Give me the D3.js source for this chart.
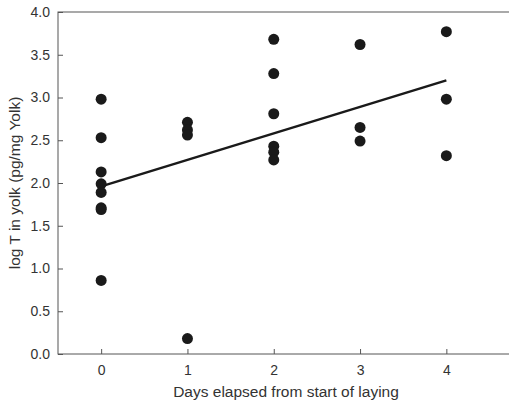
<!DOCTYPE html>
<html>
<head>
<meta charset="utf-8">
<script src="https://cdn.jsdelivr.net/npm/d3@7"></script>
<style>
  body { margin: 0; background: #fff; }
  svg { display: block; font-family: "Liberation Sans", Arial, sans-serif; }
  .axis path, .axis line { stroke: #555; }
  .axis text { fill: #333; font-size: 14px; font-family: "Liberation Sans", Arial, sans-serif; }
</style>
</head>
<body>
<svg></svg>
<script>
var width = 509;
var height = 405;

// day of laying for every egg sampled
var days = [0, 0, 0, 0, 0, 0, 0, 0,
            1, 1, 1, 1,
            2, 2, 2, 2, 2, 2,
            3, 3, 3,
            4, 4, 4];
// log T in yolk for the same eggs
var logT = [2.98, 2.53, 2.13, 1.99, 1.89, 1.71, 1.69, 0.86,
            2.71, 2.62, 2.56, 0.18,
            3.68, 3.28, 2.81, 2.43, 2.36, 2.27,
            3.62, 2.65, 2.49,
            3.77, 2.98, 2.32];

// fitted line end points
var fitDays = [0, 4];
var fitLogT = [1.96, 3.20];

var xTicks = [0, 1, 2, 3, 4];
var yTicks = [0, 0.5, 1, 1.5, 2, 2.5, 3, 3.5, 4];

var padLeft = 58, padTop = 12, padBottom = 354;

var xScale = d3.scaleLinear()
                .domain([-0.5, 5])
                .range([padLeft, padLeft + 5.5 * 86.3]);

var yScale = d3.scaleLinear()
                .domain([0, 4])
                .range([padBottom, padTop]);

var svg = d3.select("svg")
    .attr("width", width)
    .attr("height", height);

// frame (right side runs off the picture)
svg.append("rect")
    .attr("x", padLeft)
    .attr("y", padTop)
    .attr("width", xScale(5) - padLeft)
    .attr("height", padBottom - padTop)
    .attr("fill", "none")
    .attr("stroke", "#555");

var xAxis = d3.axisBottom(xScale)
                .tickValues(xTicks)
                .tickFormat(d3.format("d"))
                .tickSize(-5)
                .tickPadding(11)
                .tickSizeOuter(0);

var yAxis = d3.axisLeft(yScale)
                .tickValues(yTicks)
                .tickFormat(d3.format(".1f"))
                .tickSize(-5)
                .tickPadding(8)
                .tickSizeOuter(0);

svg.append("g")
    .attr("class", "axis")
    .attr("transform", "translate(0," + padBottom + ")")
    .call(xAxis)
  .select(".domain").remove();

svg.append("g")
    .attr("class", "axis")
    .attr("transform", "translate(" + padLeft + ",0)")
    .call(yAxis)
  .select(".domain").remove();

svg.append("line")
    .attr("x1", xScale(fitDays[0]))
    .attr("y1", yScale(fitLogT[0]))
    .attr("x2", xScale(fitDays[1]))
    .attr("y2", yScale(fitLogT[1]))
    .attr("stroke", "#1a1a1a")
    .attr("stroke-width", 2.5);

svg.selectAll("circle")
  .data(days)
  .enter()
  .append("circle")
    .attr("cx", d => xScale(d))
    .attr("cy", (d, i) => yScale(logT[i]))
    .attr("r", 5.5)
    .attr("fill", "#1a1a1a");

svg.append("text")
    .attr("x", 286)
    .attr("y", 397)
    .style("text-anchor", "middle")
    .style("font-size", "15.5px")
    .style("fill", "#333")
    .text("Days elapsed from start of laying");

svg.append("text")
    .attr("transform", "rotate(-90)")
    .attr("x", -(padTop + padBottom) / 2)
    .attr("y", 20)
    .style("text-anchor", "middle")
    .style("font-size", "15.5px")
    .style("fill", "#333")
    .text("log T in yolk (pg/mg Yolk)");
</script>
</body>
</html>
